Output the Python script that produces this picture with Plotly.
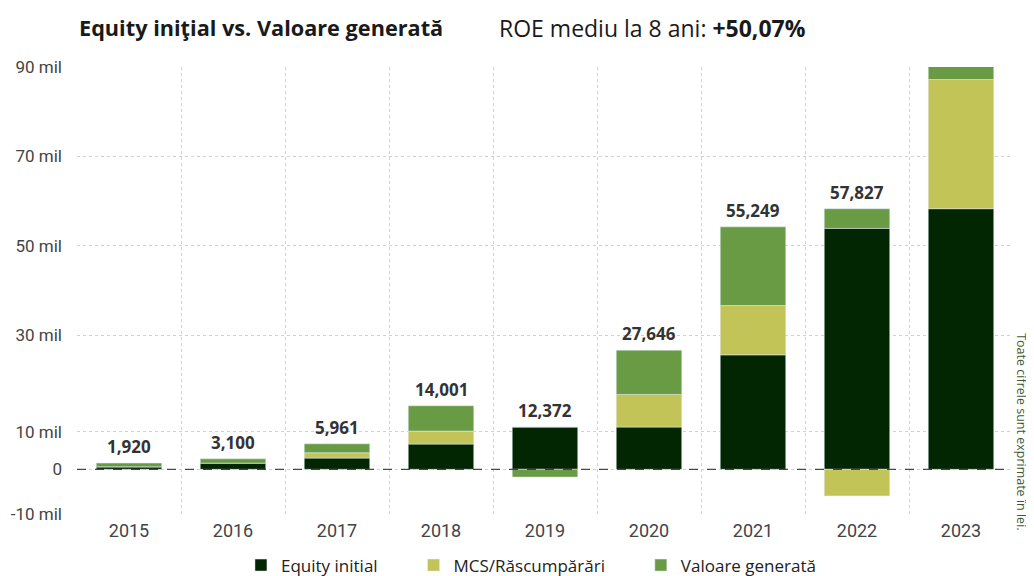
import plotly.graph_objects as go

years = ["2015", "2016", "2017", "2018", "2019", "2020", "2021", "2022", "2023"]
equity_initial = [0.56, 1.39, 2.5, 5.64, 9.45, 9.45, 25.6, 53.9, 58.3]
mcs_rascumparari = [0.0, 0.0, 1.19, 2.91, 0.0, 7.3, 11.04, -5.95, 28.9]
valoare_generata = [0.83, 0.96, 2.01, 5.66, -1.75, 9.9, 17.6, 4.4, 4.9]
total_labels = ["1,920", "3,100", "5,961", "14,001", "12,372", "27,646", "55,249", "57,827", "91,268"]

y_tickvals = [-10, 0, 8.4, 30, 50, 70, 90]
y_ticktext = ["-10 mil", "0", "10 mil", "30 mil", "50 mil", "70 mil", "90 mil"]

C_DARK = "#022602"
C_MCS = "#c3c457"
C_VAL = "#689b44"

PAD = "\u00a0" * 7
fig = go.Figure()
fig.add_trace(go.Bar(x=years, y=equity_initial, name="Equity initial" + PAD, marker_color=C_DARK))
fig.add_trace(go.Bar(x=years, y=mcs_rascumparari, name="MCS/Răscumpărări" + PAD, marker_color=C_MCS))
fig.add_trace(go.Bar(x=years, y=valoare_generata, name="Valoare generată", marker_color=C_VAL))

for i, yr in enumerate(years):
    top = sum(v for v in (equity_initial[i], mcs_rascumparari[i], valoare_generata[i]) if v > 0)
    fig.add_annotation(x=i, y=top, text=total_labels[i], showarrow=False,
                       yanchor="bottom", yshift=3,
                       font=dict(family="Open Sans", size=17, color="#333333", weight="bold"))

fig.add_shape(type="line", xref="paper", x0=0, x1=1, yref="y", y0=0, y1=0,
              line=dict(color="#222222", width=1, dash="dash"))

fig.add_annotation(xref="paper", yref="paper", x=0, y=1.088, xanchor="left", yanchor="middle",
                   text="<b>Equity iniţial vs. Valoare generată</b>", showarrow=False,
                   font=dict(family="Open Sans", size=21.7, color="#1a1a1a"))
fig.add_annotation(xref="paper", yref="paper", x=0.449, y=1.088, xanchor="left", yanchor="middle",
                   text="ROE mediu la 8 ani: <b>+50,07%</b>", showarrow=False,
                   font=dict(family="Open Sans", size=23, color="#1a1a1a"))
fig.add_annotation(xref="paper", yref="paper", x=1.0096, y=0.183, xanchor="center", yanchor="middle",
                   text="Toate cifrele sunt exprimate în lei.", textangle=90, showarrow=False,
                   font=dict(family="Open Sans", size=12.5, color="#3d5a35"))

fig.update_layout(
    barmode="relative",
    bargap=0.37,
    width=1026, height=568,
    margin=dict(l=69, r=21, t=59, b=62, autoexpand=False),
    plot_bgcolor="white", paper_bgcolor="white",
    showlegend=True,
    legend=dict(orientation="h", x=0.485, xanchor="center", y=-0.075, yanchor="top",
                font=dict(family="Open Sans", size=17, color="#222222"),
                traceorder="normal", itemwidth=30),
    font=dict(family="Open Sans"),
)
fig.update_xaxes(type="category", range=[-0.5, 8.5], tickson="boundaries", showgrid=True,
                 gridcolor="#d0d0d0", griddash="dot", gridwidth=1, ticks="", showline=False,
                 zeroline=False, tickangle=0, ticklabelstandoff=4,
                 tickfont=dict(family="Roboto", size=18, color="#444444"))
fig.update_yaxes(range=[-10, 90], tickvals=y_tickvals, ticktext=y_ticktext, showgrid=True,
                 gridcolor="#d0d0d0", griddash="dot", gridwidth=1, zeroline=False, showline=False,
                 tickfont=dict(family="Roboto", size=17, color="#444444"), ticklen=0, ticks="",
                 ticklabelstandoff=14)

fig.write_html("out.html")
